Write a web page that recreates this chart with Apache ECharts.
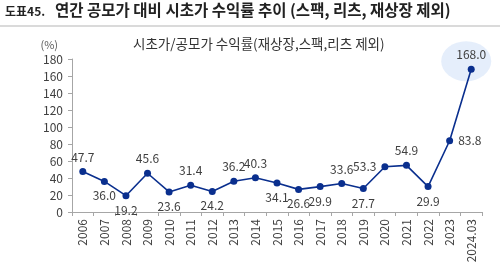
<!DOCTYPE html>
<html>
<head>
<meta charset="utf-8">
<script src="https://cdn.jsdelivr.net/npm/echarts@6/dist/echarts.min.js"></script>
<style>
  html, body { margin: 0; padding: 0; background: #fff; }
  #chart { width: 500px; height: 270px; }
</style>
</head>
<body>
<div id="chart"></div>
<script>
// 연도별 시초가/공모가 수익률
var years = ['2006', '2007', '2008', '2009', '2010', '2011', '2012', '2013', '2014', '2015',
  '2016', '2017', '2018', '2019', '2020', '2021', '2022', '2023', '2024.03'];
var returns = [47.7, 36.0, 19.2, 45.6, 23.6, 31.4, 24.2, 36.2, 40.3, 34.1,
  26.6, 29.9, 33.6, 27.7, 53.3, 54.9, 29.9, 83.8, 168.0];
// 라벨 위치 (위/아래)
var labelPos = ['top', 'bottom', 'bottom', 'top', 'bottom', 'top', 'bottom', 'top', 'top', 'bottom',
  'bottom', 'bottom', 'top', 'bottom', 'left', 'top', 'bottom', 'right', 'top'];

var font = '"Noto Sans CJK KR", "Noto Sans", sans-serif';
var lineColor = '#0a2f8e';

var chart = echarts.init(document.getElementById('chart'));

chart.setOption({
  animation: false,
  textStyle: { fontFamily: font },
  graphic: [
    { type: 'text', left: 5, top: 5,
      style: { text: '도표45.', font: 'bold 12px ' + font, fill: '#222' } },
    { type: 'text', left: 55, top: 2,
      style: { text: '연간 공모가 대비 시초가 수익률 추이 (스팩, 리츠, 재상장 제외)', font: 'bold 15.5px ' + font, fill: '#222' } },
    { type: 'rect', left: 0, top: 25, shape: { width: 500, height: 2 },
      style: { fill: '#dadada' } },
    { type: 'text', left: 133, top: 37,
      style: { text: '시초가/공모가 수익률(재상장,스팩,리츠 제외)', font: '13.5px ' + font, fill: '#333' } }
  ],
  grid: { left: 72, right: 18, top: 59, bottom: 58, outerBoundsMode: 'none' },
  xAxis: {
    type: 'category',
    data: years,
    boundaryGap: true,
    axisLine: { lineStyle: { color: '#a6a6a6' } },
    axisTick: { show: true, length: 4, lineStyle: { color: '#a6a6a6' } },
    axisLabel: { rotate: 90, interval: 0, color: '#404040', fontSize: 12, margin: 7 }
  },
  yAxis: {
    type: 'value',
    min: 0, max: 180, interval: 20,
    name: '(%)',
    nameGap: 9,
    nameTextStyle: { color: '#595959', fontSize: 11, align: 'right', padding: [0, 14, 0, 0] },
    axisLine: { show: true, lineStyle: { color: '#a6a6a6' } },
    axisTick: { show: true, length: 4, lineStyle: { color: '#a6a6a6' } },
    splitLine: { show: false },
    axisLabel: { color: '#404040', fontSize: 12, margin: 9 }
  },
  series: [
    {
      // 강조 원
      type: 'scatter',
      z: 1,
      silent: true,
      symbol: 'circle',
      symbolSize: [50, 40],
      symbolOffset: [-5, -8],
      itemStyle: { color: '#deeafa' },
      data: [[years.length - 1, returns[returns.length - 1]]]
    },
    {
      type: 'line',
      z: 3,
      data: returns.map(function (v, i) {
        return { value: v, label: { position: labelPos[i] } };
      }),
      symbol: 'circle',
      symbolSize: 7,
      lineStyle: { color: lineColor, width: 1.6 },
      itemStyle: { color: lineColor },
      label: {
        show: true,
        color: '#404040',
        fontSize: 12,
        distance: 5,
        formatter: function (p) { return p.value.toFixed(1); }
      }
    }
  ]
});
</script>
</body>
</html>
